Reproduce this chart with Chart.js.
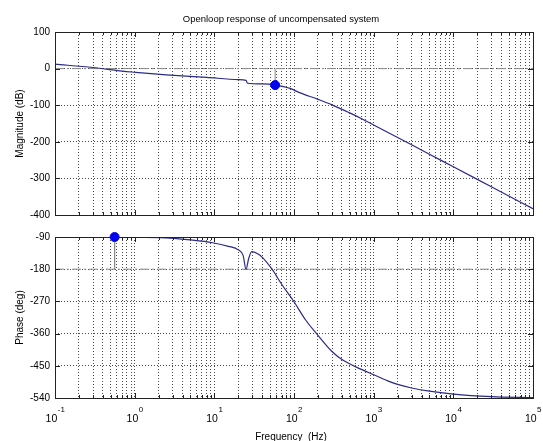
<!DOCTYPE html>
<html><head><meta charset="utf-8">
<script src="https://cdn.jsdelivr.net/npm/chart.js@4.4.0/dist/chart.umd.min.js"></script>
<style>
html,body{margin:0;padding:0;background:#fff;}
#wrap{position:relative;width:543px;height:441px;overflow:hidden;background:#fff}
canvas{position:absolute;left:0}
#c1{top:0}
#c2{top:226px}
</style></head><body>
<div id="wrap"><canvas id="c1" width="543" height="226"></canvas><canvas id="c2" width="543" height="215"></canvas></div>
<script>
// ---- data ----
const titleText = 'Openloop response of uncompensated system';
const xLabel = 'Frequency  (Hz)';
const magLabel = 'Magnitude (dB)';
const phaseLabel = 'Phase (deg)';

const magFreq = [0.1, 0.3, 0.7, 1, 2.5, 8, 20, 25, 26, 40, 58, 89, 115, 200, 300, 500, 708, 1000, 2000, 5000, 10000, 30000, 100000];
const magDb   = [12, 3, -7, -10, -17, -24, -30, -32, -40, -42, -45, -54, -65, -84, -99, -121, -137, -154, -188, -234, -268, -323, -383];

const phaseFreq = [0.1, 0.5, 1, 2.8, 5, 9.5, 15, 20, 23, 25, 27, 29.5, 35, 40, 53, 70, 100, 140, 195, 300, 409, 700, 1000, 1500, 2000, 3000, 5000, 10000, 30000, 100000];
const phaseDeg  = [-90, -90, -91, -93, -98, -106, -116, -126, -142, -180, -150, -131, -137, -147, -180, -222, -271, -322, -362, -410, -434, -460, -475, -492, -502, -512, -521, -529, -536, -539];

const magTicks = [100, 0, -100, -200, -300, -400];
const phaseTicks = [-90, -180, -270, -360, -450, -540];
const decadeExps = [-1, 0, 1, 2, 3, 4, 5];

const gmFreq = 58, gmValue = -45, gmRef = 0;     // magnitude marker
const pmFreq = 0.56, pmValue = -90, pmRef = -180; // phase marker

// ---- helpers ----
const FONT = "'Liberation Sans', Arial, sans-serif";
const xTickValues = [];
decadeExps.forEach(e => {
  if (e === decadeExps[decadeExps.length - 1]) { xTickValues.push({v: Math.pow(10, e), major: true}); return; }
  for (let m = 1; m <= 9; m++) xTickValues.push({v: m * Math.pow(10, e), major: m === 1});
});
const pts = (xs, ys) => xs.map((x, i) => ({x, y: ys[i]}));

const boxPlugin = {
  id: 'box',
  afterDraw(chart) {
    const {ctx, chartArea: a, scales} = chart;
    ctx.save();
    ctx.strokeStyle = '#222';
    ctx.lineWidth = 1;
    ctx.beginPath();
    xTickValues.forEach(t => {
      const px = Math.round(scales.x.getPixelForValue(t.v)) + 0.5;
      const len = t.major ? 5 : 3;
      ctx.moveTo(px, a.top); ctx.lineTo(px, a.top + len);
      ctx.moveTo(px, a.bottom); ctx.lineTo(px, a.bottom - len);
    });
    scales.y.ticks.forEach(t => {
      const py = Math.round(scales.y.getPixelForValue(t.value)) + 0.5;
      ctx.moveTo(a.left, py); ctx.lineTo(a.left + 5, py);
      ctx.moveTo(a.right, py); ctx.lineTo(a.right - 5, py);
    });
    ctx.stroke();
    ctx.strokeRect(Math.round(a.left) + 0.5, Math.round(a.top) + 0.5, Math.round(a.right - a.left), Math.round(a.bottom - a.top));
    ctx.restore();
  }
};

const titlePlugin = {
  id: 'ptitle',
  afterDraw(chart) {
    const {ctx, chartArea: a} = chart;
    ctx.save();
    ctx.fillStyle = '#000';
    ctx.font = '9.5px ' + FONT;
    ctx.textAlign = 'center';
    ctx.textBaseline = 'alphabetic';
    ctx.fillText(titleText, (a.left + a.right) / 2 - 13, a.top - 10);
    ctx.restore();
  }
};

const xLabelPlugin = {
  id: 'xlabels',
  afterDraw(chart) {
    const {ctx, chartArea: a, scales} = chart;
    ctx.save();
    ctx.fillStyle = '#000';
    ctx.textBaseline = 'alphabetic';
    decadeExps.forEach(e => {
      const px = scales.x.getPixelForValue(Math.pow(10, e));
      ctx.font = '10.5px ' + FONT;
      const w1 = ctx.measureText('10').width;
      ctx.font = '8px ' + FONT;
      const w2 = ctx.measureText(String(e)).width;
      const x0 = px - (w1 + w2) / 2;
      ctx.font = '10.5px ' + FONT;
      ctx.textAlign = 'left';
      ctx.fillText('10', x0, a.bottom + 24);
      ctx.font = '8px ' + FONT;
      ctx.fillText(String(e), x0 + w1 + 0.5, a.bottom + 14);
    });
    ctx.font = '10px ' + FONT;
    ctx.textAlign = 'center';
    ctx.fillText(xLabel, (a.left + a.right) / 2 - 3, a.bottom + 42);
    ctx.restore();
  }
};

function makeChart(id, cfg) {
  const gridColor = 'rgba(30,30,30,0.8)';
  return new Chart(document.getElementById(id), {
    type: 'line',
    data: {datasets: [
      {data: pts([cfg.mFreq], [cfg.mValue]), showLine: false, pointRadius: 4.5, pointBackgroundColor: '#0000f0', pointBorderColor: '#0000f0', order: 0, clip: false},
      {data: pts(cfg.xs, cfg.ys), borderColor: '#2b2b88', borderWidth: 1.2, pointRadius: 0, cubicInterpolationMode: 'monotone', order: 1},
      {data: pts([cfg.mFreq, cfg.mFreq], [cfg.mValue, cfg.mRef]), borderColor: '#8a8a8a', borderWidth: 1, pointRadius: 0, order: 2},
      {data: pts([0.1, 100000], [cfg.mRef, cfg.mRef]), borderColor: '#8a8a8a', borderWidth: 1, borderDash: [9, 3, 2, 3], pointRadius: 0, order: 3}
    ]},
    options: {
      responsive: false, animation: false, devicePixelRatio: 1,
      layout: {padding: cfg.padding},
      plugins: {legend: {display: false}, tooltip: {enabled: false}, title: {display: false}},
      scales: {
        x: {
          type: 'logarithmic', min: 0.1, max: 100000,
          afterBuildTicks: s => { s.ticks = xTickValues.map(t => ({value: t.v})); },
          afterFit: s => { s.height = 0; },
          ticks: {display: false},
          grid: {color: gridColor, lineWidth: 1, drawTicks: false},
          border: {display: false, dash: [1, 2]}
        },
        y: {
          type: 'linear', min: cfg.min, max: cfg.max,
          afterBuildTicks: s => { s.ticks = cfg.ticks.map(v => ({value: v})); },
          afterFit: s => { s.width = 55; },
          ticks: {font: {family: FONT, size: 10}, color: '#000', padding: 5, autoSkip: false},
          grid: {color: gridColor, lineWidth: 1, drawTicks: false},
          border: {display: false, dash: [1, 2]},
          title: {display: true, text: cfg.ylabel, font: {family: FONT, size: 10}, color: '#000', padding: {top: 14, bottom: 0}}
        }
      }
    },
    plugins: cfg.extra
  });
}

makeChart('c1', {
  xs: magFreq, ys: magDb, mFreq: gmFreq, mValue: gmValue, mRef: gmRef,
  min: -400, max: 100, ticks: magTicks, ylabel: magLabel,
  padding: {top: 32, bottom: 7, left: 0, right: 10},
  extra: [boxPlugin, titlePlugin]
});
makeChart('c2', {
  xs: phaseFreq, ys: phaseDeg, mFreq: pmFreq, mValue: pmValue, mRef: pmRef,
  min: -540, max: -90, ticks: phaseTicks, ylabel: phaseLabel,
  padding: {top: 7, bottom: 43, left: 0, right: 10},
  extra: [boxPlugin, xLabelPlugin]
});
</script>
</body></html>
